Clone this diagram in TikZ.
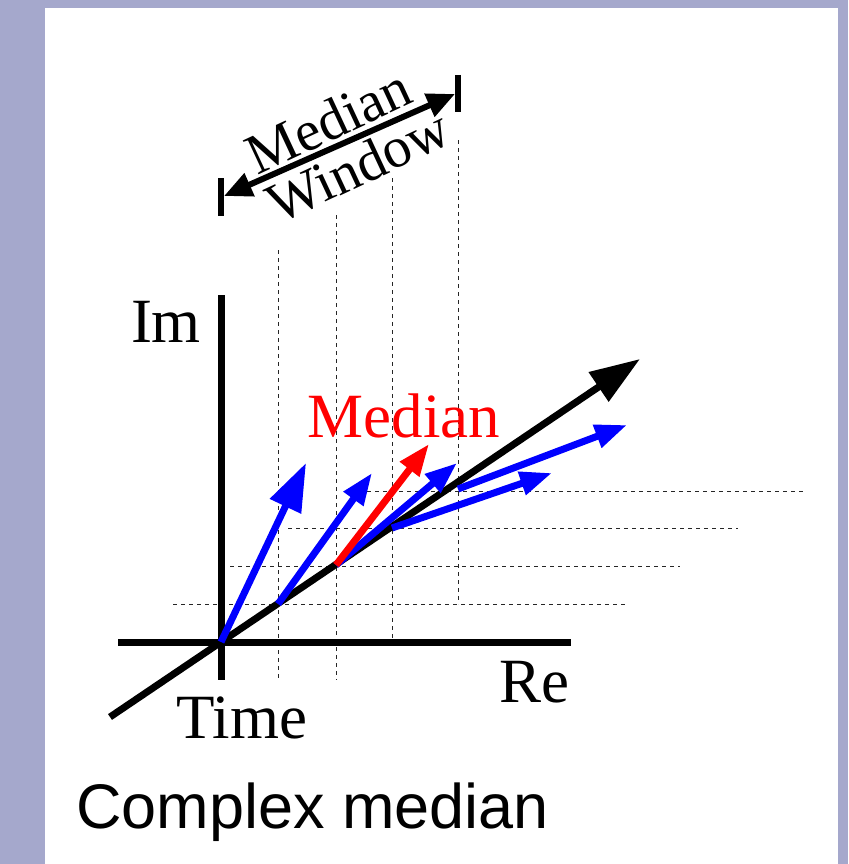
\documentclass[tikz,border=0pt]{standalone}
\usepackage{fontspec}
\setmainfont{Liberation Serif}
\newfontfamily\capsans{Liberation Sans}
\usetikzlibrary{arrows.meta}
\definecolor{slidebg}{RGB}{165,168,204}

\begin{document}
\begin{tikzpicture}[x=1pt,y=-1pt,
  axis/.style={line width=7pt},
  grid/.style={line width=1pt,dash pattern=on 4pt off 4pt,black!85},
  vec/.style={line width=7pt,blue,-{Triangle[length=32pt,width=23pt]}},
  lab/.style={font=\fontsize{63}{63}\selectfont,inner sep=0pt,anchor=base},
  winlab/.style={font=\fontsize{57}{57}\selectfont,inner sep=0pt,rotate=25}]
% slide background and panel
\fill[slidebg] (0,0) rectangle (848,864);
\useasboundingbox (0,0) rectangle (848,864);
\fill[white] (45,8) rectangle (838,864);
% points of the picture
\coordinate (O) at (221,642);
\coordinate (t1) at (278,604);
\coordinate (t2) at (336,565);
\coordinate (t3) at (392,528);
\coordinate (t4) at (458,489);
\coordinate (imtop) at (221,295);
\coordinate (imbot) at (221,680);
\coordinate (releft) at (118,642);
\coordinate (reright) at (571,642);
\coordinate (tstart) at (110,717);
\coordinate (tend) at (640,359);
% dashed guides
\draw[grid] (278,250)--(278,680);
\draw[grid] (336,215)--(336,680);
\draw[grid] (392,178)--(392,642);
\draw[grid] (458,140)--(458,604);
\draw[grid] (173,604)--(625,604);
\draw[grid] (230,566)--(680,566);
\draw[grid] (288,528)--(738,528);
\draw[grid] (367,491)--(805,491);
% axes
\draw[axis] (imtop)--(imbot);
\draw[axis] (releft)--(reright);
\draw[axis,-{Triangle[length=50pt,width=34pt]}] (tstart)--(tend);
% samples
\coordinate (v0) at (306,463);
\coordinate (v1) at (372,473);
\coordinate (v2) at (457,463);
\coordinate (v3) at (552,473);
\coordinate (v4) at (627,425);
\coordinate (vm) at (429,444);
\draw[vec,-{Triangle[length=48pt,width=33pt]}] (O)--(v0);
\draw[vec] (t1)--(v1);
\draw[vec] (t2)--(v2);
\draw[vec] (t3)--(v3);
\draw[vec] (t4)--(v4);
\draw[vec,red] (t2)--(vm);
% median window
\coordinate (wl) at (221,197);
\coordinate (wr) at (458,93);
\draw[line width=6pt] (wl) ++(0,-19)--++(0,38);
\draw[line width=6pt] (wr) ++(0,-18)--++(0,37);
\coordinate (wla) at (224,196);
\coordinate (wra) at (455,94);
\draw[line width=6pt,{Triangle[length=28pt,width=24pt]}-{Triangle[length=28pt,width=24pt]}] (wla)--(wra);
\node[winlab] (wtop) at (328,121) {Median};
\node[winlab] (wbot) at (358,166) {Window};
% labels
\node[lab] (im) at (166,342) {Im};
\node[lab] (re) at (534,702) {Re};
\node[lab] (time) at (242,738) {Time};
\node[lab,red] (med) at (404,437) {Median};
\node[font=\capsans\fontsize{63}{63}\selectfont,inner sep=0pt,anchor=base west] (cap) at (76,828) {Complex median};
\end{tikzpicture}
\end{document}
